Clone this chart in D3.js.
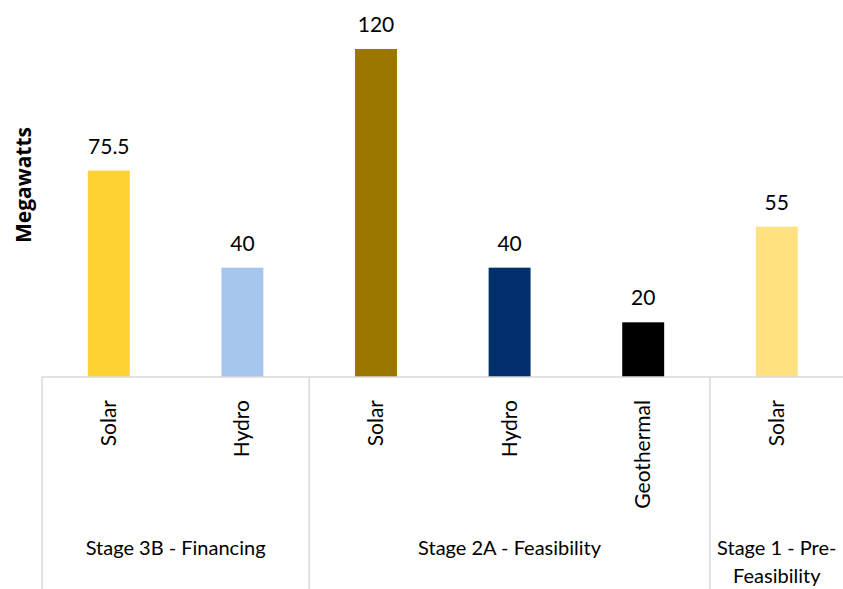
<!DOCTYPE html>
<html>
<head>
<meta charset="utf-8">
<script src="https://cdn.jsdelivr.net/npm/d3@7"></script>
<style>
  body { margin: 0; background: #fff; }
  text { font-family: Lato, "Open Sans", sans-serif; fill: #000; }
</style>
</head>
<body>
<div id="chart"></div>
<script>
// data
var technologies = ["Solar", "Hydro", "Solar", "Hydro", "Geothermal", "Solar"];
var stages = ["Stage 3B - Financing", "Stage 3B - Financing", "Stage 2A - Feasibility",
              "Stage 2A - Feasibility", "Stage 2A - Feasibility", "Stage 1 - Pre-Feasibility"];
var megawatts = [75.5, 40, 120, 40, 20, 55];
var barColors = ["#FFD133", "#A7C6ED", "#9C7700", "#002F6C", "#000000", "#FFE180"];
var stageNames = ["Stage 3B - Financing", "Stage 2A - Feasibility", "Stage 1 - Pre-Feasibility"];

var svgWidth = 843;
var svgHeight = 589;

var svg = d3.select("#chart")
  .append("svg")
  .attr("width", svgWidth)
  .attr("height", svgHeight);

// one slot per bar
var xScale = d3.scaleBand()
  .domain(d3.range(megawatts.length))
  .range([42, 843.6])
  .padding(0);

var yScale = d3.scaleLinear()
  .domain([0, 120])
  .range([377, 49]);

var barWidth = xScale.bandwidth() * 0.314;

// bars
svg.selectAll("rect.bar")
  .data(megawatts)
  .enter().append("rect")
  .attr("class", "bar")
  .attr("x", function(d, i) { return xScale(i) + xScale.bandwidth() / 2 - barWidth / 2; })
  .attr("y", function(d) { return yScale(d); })
  .attr("width", barWidth)
  .attr("height", function(d) { return yScale(0) - yScale(d); })
  .attr("fill", function(d, i) { return barColors[i]; });

// value labels
svg.selectAll("text.value")
  .data(megawatts)
  .enter().append("text")
  .attr("class", "value")
  .attr("x", function(d, i) { return xScale(i) + xScale.bandwidth() / 2; })
  .attr("y", function(d) { return yScale(d) - 17; })
  .attr("text-anchor", "middle")
  .style("font-size", "21px")
  .text(function(d) { return d; });

// baseline
svg.append("line")
  .attr("x1", xScale.range()[0]).attr("x2", svgWidth)
  .attr("y1", yScale(0)).attr("y2", yScale(0))
  .attr("stroke", "#d9d9d9").attr("stroke-width", 1.5);

// stage separators
var stageStart = [];
stageNames.forEach(function(s) {
  var idx = stages.map(function(d, i) { return d === s ? i : -1; }).filter(function(i) { return i >= 0; });
  stageStart.push({ name: s, first: idx[0], last: idx[idx.length - 1] });
});

svg.selectAll("line.sep")
  .data(stageStart)
  .enter().append("line")
  .attr("class", "sep")
  .attr("x1", function(d) { return xScale(d.first); })
  .attr("x2", function(d) { return xScale(d.first); })
  .attr("y1", yScale(0))
  .attr("y2", svgHeight)
  .attr("stroke", "#d9d9d9").attr("stroke-width", 1.5);

// technology labels (rotated)
svg.selectAll("text.tech")
  .data(technologies)
  .enter().append("text")
  .attr("class", "tech")
  .attr("transform", function(d, i) {
    return "translate(" + (xScale(i) + xScale.bandwidth() / 2 + 7) + "," + 400 + ") rotate(-90)";
  })
  .attr("text-anchor", "end")
  .style("font-size", "21px")
  .text(function(d) { return d; });

// stage labels
svg.selectAll("text.stage")
  .data(stageStart)
  .enter().append("text")
  .attr("class", "stage")
  .attr("text-anchor", "middle")
  .style("font-size", "20px")
  .each(function(d) {
    var cx = (xScale(d.first) + xScale(d.last) + xScale.bandwidth()) / 2;
    var el = d3.select(this);
    if (d.last === d.first) {
      // too narrow, wrap onto two lines
      el.append("tspan").attr("x", cx).attr("y", 555).text("Stage 1 - Pre-");
      el.append("tspan").attr("x", cx).attr("y", 583).text("Feasibility");
    } else {
      el.append("tspan").attr("x", cx).attr("y", 555).text(d.name);
    }
  });

// y axis title
svg.append("text")
  .attr("transform", "translate(31,185) rotate(-90)")
  .attr("text-anchor", "middle")
  .style("font-size", "21px")
  .style("font-weight", "bold")
  .style("font-family", "'Open Sans', sans-serif")
  .text("Megawatts");
</script>
</body>
</html>
